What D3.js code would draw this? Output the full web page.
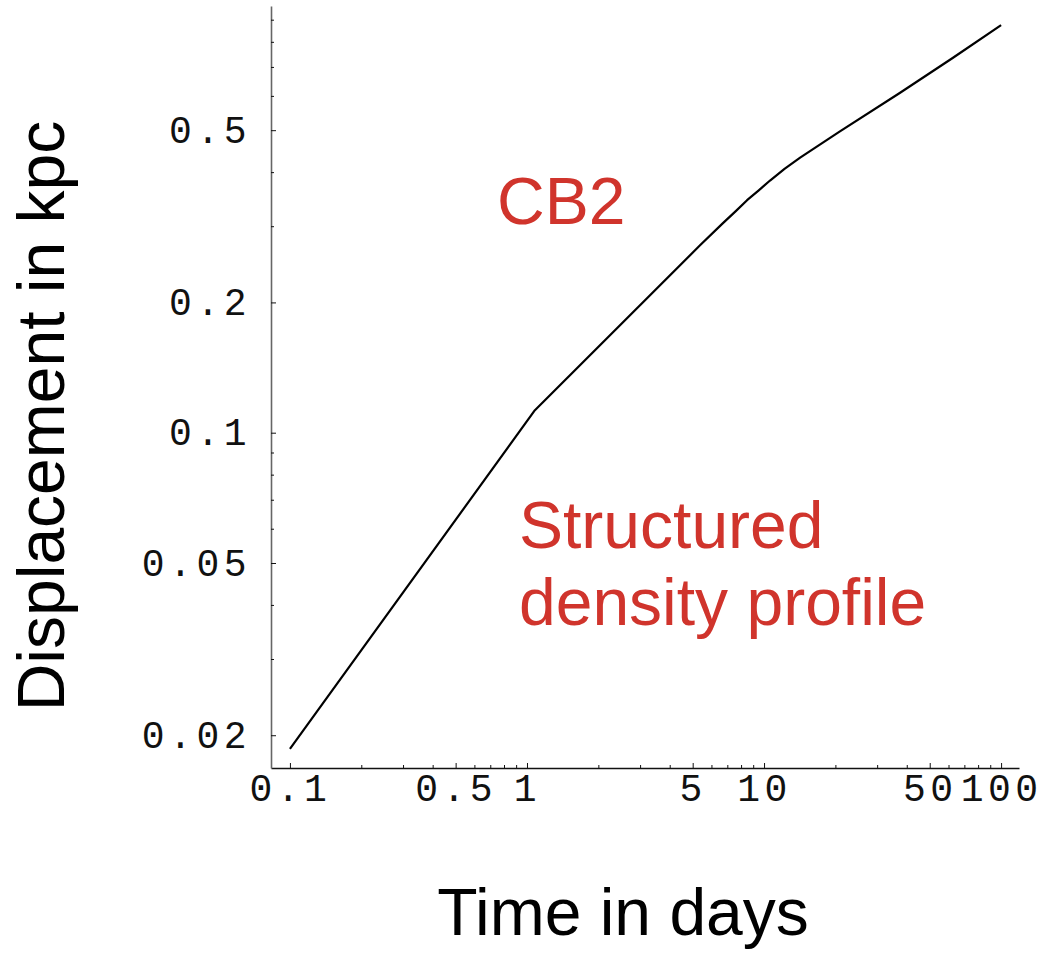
<!DOCTYPE html>
<html>
<head>
<meta charset="utf-8">
<script src="https://cdn.jsdelivr.net/npm/d3@7"></script>
<style>
  html, body { margin: 0; padding: 0; background: #fff; }
  svg { display: block; }
</style>
</head>
<body>
<svg id="chart" width="1047" height="953"></svg>
<script>
// ---- data ----
const timeDays = [0.1, 1.08, 5.37, 6.71, 7.6, 8.48, 9.5, 10.6, 12.2, 14.2, 20.9, 37.5, 62.7, 100];
const displacementKpc = [0.0186, 0.1127, 0.271, 0.305, 0.325, 0.3445, 0.363, 0.3825, 0.407, 0.432, 0.497, 0.61, 0.735, 0.874];

const xMajorTicks = [0.1, 0.5, 1, 5, 10, 50, 100];
const xTickLabels = ["0.1", "0.5", "1", "5", "10", "50", "100"];
const xMinorTicks = [0.2, 0.3, 0.4, 0.6, 0.7, 0.8, 0.9, 2, 3, 4, 6, 7, 8, 9, 20, 30, 40, 60, 70, 80, 90];
const yMajorTicks = [0.02, 0.05, 0.1, 0.2, 0.5];
const yTickLabels = ["0.02", "0.05", "0.1", "0.2", "0.5"];
const yMinorTicks = [0.03, 0.04, 0.06, 0.07, 0.08, 0.09, 0.3, 0.4, 0.6, 0.7, 0.8, 0.9];

const xTitle = "Time in days";
const yTitle = "Displacement in kpc";
const annotations = [
  { text: "CB2", x: 497, y: 224 },
  { text: "Structured", x: 519, y: 548 },
  { text: "density profile", x: 519, y: 625 }
];

// ---- drawing ----
const svg = d3.select("#chart");

const x = d3.scaleLog().domain([0.0832, 119]).range([271, 1019]);
const y = d3.scaleLog().domain([0.0168, 0.968]).range([768, 6]);

const tickFont = "'Liberation Mono', 'DejaVu Sans Mono', monospace";
const titleFont = "'Liberation Sans', Arial, Helvetica, sans-serif";

// x axis
const xAxisMajor = d3.axisBottom(x)
  .tickValues(xMajorTicks)
  .tickFormat((d, i) => xTickLabels[i])
  .tickSizeInner(-5).tickSizeOuter(0).tickPadding(6);
const gx = svg.append("g").attr("transform", "translate(0,768)").call(xAxisMajor);
gx.select(".domain").attr("stroke", "#111").attr("stroke-width", 1.4);
gx.selectAll(".tick line").attr("stroke", "#111").attr("stroke-width", 1);
gx.selectAll(".tick text")
  .attr("font-family", tickFont).attr("font-size", 38)
  .style("letter-spacing", "4.5px")
  .attr("fill", "#111");

const gxm = svg.append("g").attr("transform", "translate(0,768)")
  .call(d3.axisBottom(x).tickValues(xMinorTicks).tickFormat("").tickSizeInner(-3).tickSizeOuter(0));
gxm.select(".domain").remove();
gxm.selectAll(".tick line").attr("stroke", "#111").attr("stroke-width", 1);

// y axis
const yAxisMajor = d3.axisLeft(y)
  .tickValues(yMajorTicks)
  .tickFormat((d, i) => yTickLabels[i])
  .tickSizeInner(-5).tickSizeOuter(0).tickPadding(20);
const gy = svg.append("g").attr("transform", "translate(271,0)").call(yAxisMajor);
gy.select(".domain").attr("stroke", "#666").attr("stroke-width", 1.6);
gy.selectAll(".tick line").attr("stroke", "#111").attr("stroke-width", 1);
gy.selectAll(".tick text")
  .attr("font-family", tickFont).attr("font-size", 38)
  .style("letter-spacing", "4.5px")
  .attr("fill", "#111");

const gym = svg.append("g").attr("transform", "translate(271,0)")
  .call(d3.axisLeft(y).tickValues(yMinorTicks).tickFormat("").tickSizeInner(-3).tickSizeOuter(0));
gym.select(".domain").remove();
gym.selectAll(".tick line").attr("stroke", "#111").attr("stroke-width", 1);

// curve
const data = timeDays.map((t, i) => ({ t, d: displacementKpc[i] }));
svg.append("path")
  .datum(data)
  .attr("fill", "none")
  .attr("stroke", "#000")
  .attr("stroke-width", 2.2)
  .attr("stroke-linejoin", "round")
  .attr("d", d3.line().x(p => x(p.t)).y(p => y(p.d)));

// titles
svg.append("text")
  .attr("x", 623).attr("y", 935)
  .attr("text-anchor", "middle")
  .attr("font-family", titleFont).attr("font-size", 66)
  .attr("fill", "#000")
  .text(xTitle);

svg.append("text")
  .attr("transform", "translate(64,416) rotate(-90)")
  .attr("text-anchor", "middle")
  .attr("font-family", titleFont).attr("font-size", 66)
  .attr("fill", "#000")
  .text(yTitle);

// annotations
svg.selectAll("text.note")
  .data(annotations)
  .enter().append("text")
  .attr("class", "note")
  .attr("x", d => d.x).attr("y", d => d.y)
  .attr("font-family", titleFont).attr("font-size", 66)
  .attr("fill", "#d0342c")
  .text(d => d.text);
</script>
</body>
</html>
